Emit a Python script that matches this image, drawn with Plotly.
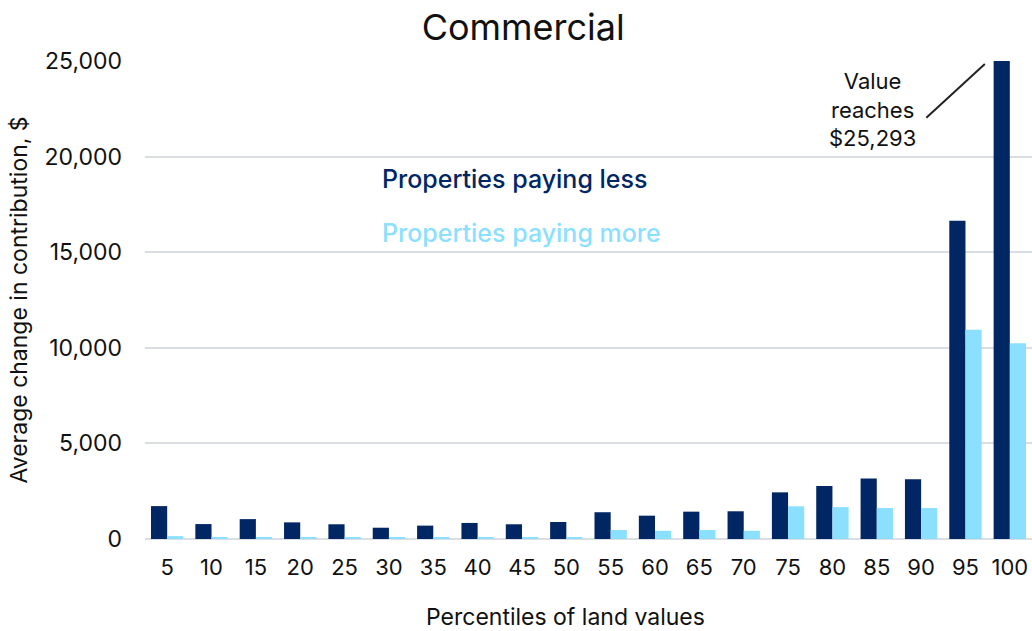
import plotly.graph_objects as go

# Percentile buckets of land value
percentiles = ["5", "10", "15", "20", "25", "30", "35", "40", "45", "50",
               "55", "60", "65", "70", "75", "80", "85", "90", "95", "100"]

# Average change in contribution ($)
paying_less = [1720, 780, 1040, 870, 770, 590, 700, 840, 770, 890,
               1400, 1220, 1430, 1450, 2440, 2770, 3170, 3120, 16640, 25293]
paying_more = [150, 100, 110, 80, 90, 90, 80, 80, 80, 90,
               470, 430, 470, 430, 1710, 1670, 1620, 1620, 10940, 10240]

DARK = "#002664"
LIGHT = "#8CE0FF"
FONT = "Inter"

fig = go.Figure()
fig.add_trace(go.Bar(x=percentiles, y=paying_less, name="Properties paying less",
                     marker=dict(color=DARK, line=dict(width=0))))
fig.add_trace(go.Bar(x=percentiles, y=paying_more, name="Properties paying more",
                     marker=dict(color=LIGHT, line=dict(width=0))))

fig.update_layout(
    width=1032, height=631,
    margin=dict(l=145, r=0, t=61, b=92),
    paper_bgcolor="white", plot_bgcolor="white",
    barmode="group", bargap=0.27, bargroupgap=0,
    showlegend=False,
    font=dict(family=FONT, color="#111111", size=22),
    title=dict(text="Commercial", x=0.507, xanchor="center", y=0.957, yanchor="middle",
               font=dict(size=36, family=FONT, color="#111111")),
)

fig.update_xaxes(
    type="category", range=[-0.5, len(percentiles) - 0.5],
    showgrid=False, ticks="", showline=False,
    tickfont=dict(size=22), ticklabelstandoff=13,
)
fig.update_yaxes(
    range=[0, 25000], tickvals=[0, 5000, 10000, 15000, 20000, 25000],
    tickformat=",", showgrid=True, gridcolor="#DADDE2", gridwidth=1.5,
    zeroline=True, zerolinecolor="#DADDE2", zerolinewidth=1.5,
    tickfont=dict(size=23), ticklabelstandoff=22,
    title=dict(text="Average change in contribution, $", font=dict(size=23), standoff=10),
)

# X-axis caption
fig.add_annotation(x=0.4746, xref="paper", y=-0.163, yref="paper",
                   xanchor="center", yanchor="middle", showarrow=False,
                   text="Percentiles of land values",
                   font=dict(size=23, color="#111111", family=FONT))

# Series labels placed inside the plot
fig.add_annotation(x=0.265, xref="paper", y=18830, yref="y", xanchor="left",
                   text="Properties paying less", showarrow=False,
                   font=dict(size=25, color=DARK, family=FONT, weight=500))
fig.add_annotation(x=0.265, xref="paper", y=16000, yref="y", xanchor="left",
                   text="Properties paying more", showarrow=False,
                   font=dict(size=25, color=LIGHT, family=FONT, weight=500))

# Note for the clipped top bar
last = len(percentiles) - 1
fig.add_annotation(x=last, xref="x", y=22440, yref="y", xshift=-137,
                   text="Value<br>reaches<br>$25,293", showarrow=False,
                   align="center", font=dict(size=22, color="#111111", family=FONT))
fig.add_annotation(x=last, xref="x", y=24840, yref="y", xshift=-25,
                   ax=-60, ay=55, axref="pixel", ayref="pixel",
                   text="", showarrow=True, arrowhead=0, arrowwidth=2,
                   arrowcolor="#222222", standoff=0, startstandoff=0)

fig.write_html("out.html")
